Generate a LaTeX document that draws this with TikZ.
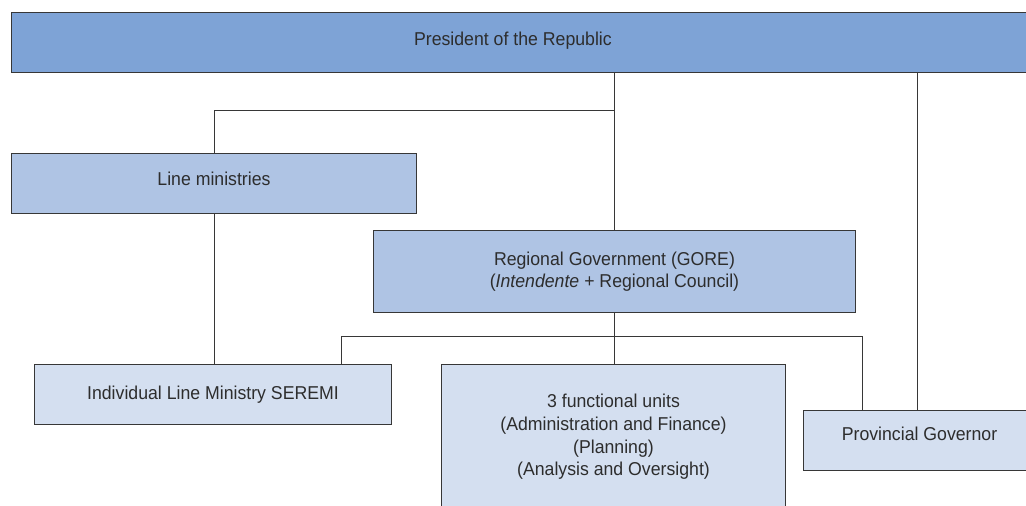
\documentclass[tikz,border=0pt]{standalone}
\usepackage{fontspec}
\setmainfont{Liberation Sans}[FakeStretch=0.95]
\usepackage{tikz}
\definecolor{topBlue}{RGB}{126, 163, 214}
\definecolor{midBlue}{RGB}{175, 196, 228}
\definecolor{lightBlue}{RGB}{212, 223, 240}
\definecolor{lineGray}{RGB}{55, 55, 55}
\definecolor{textGray}{RGB}{45, 45, 45}

\tikzset{
  orgbox/.style={draw=lineGray, line width=0.6pt, anchor=north west, align=center,
    inner sep=0pt, text=textGray, font=\fontsize{10.6}{12.9}\selectfont},
  topbox/.style={orgbox, fill=topBlue},
  midbox/.style={orgbox, fill=midBlue},
  lowbox/.style={orgbox, fill=lightBlue},
  link/.style={draw=lineGray, line width=0.5pt}
}

\begin{document}
\begin{tikzpicture}[x=0.02cm, y=-0.02cm]
      \useasboundingbox (0,0) rectangle (1026,506);

      % Top level
      \node[topbox, minimum width=20.58cm, minimum height=1.2cm,
        label={[xshift=-0.26cm, yshift=0.03cm, text=textGray, font=\fontsize{10.6}{12.9}\selectfont]center:President of the Republic}]
        (pres) at (11,12) {};

      % Second level
      \node[midbox, minimum width=8.1cm, minimum height=1.2cm, text depth=5.6pt] (lines) at (11,153) {Line ministries};
      \node[midbox, minimum width=9.64cm, minimum height=1.64cm] (gore) at (373,230)
        {Regional Government (GORE)\\(\textit{Intendente} + Regional Council)};

      % Bottom level
      \node[lowbox, minimum width=7.14cm, minimum height=1.2cm] (seremi) at (34,364) {Individual Line Ministry SEREMI};
      \node[lowbox, minimum width=6.88cm, minimum height=2.9cm] (units) at (441,364)
        {3 functional units\\(Administration and Finance)\\(Planning)\\(Analysis and Oversight)};
      \node[lowbox, minimum width=4.64cm, minimum height=1.2cm, text depth=7.6pt] (prov) at (803,410) {Provincial Governor};

      % Junctions
      \coordinate (jLines) at (614,110);
      \coordinate (jLeft) at (341,336);
      \coordinate (jRight) at (862,336);
      \coordinate (provTop) at (917,410);

      % Connectors
      \draw[link] (pres.south -| gore.north) -- (gore.north);
      \draw[link] (jLines) -| (lines.north);
      \draw[link] (pres.south -| provTop) -- (provTop);
      \draw[link] (lines.south) -- (lines.south |- seremi.north);
      \draw[link] (gore.south) -- (gore.south |- units.north);
      \draw[link] (seremi.north -| jLeft) -- (jLeft) -- (jRight) -- (prov.north -| jRight);
    \end{tikzpicture}
\end{document}
